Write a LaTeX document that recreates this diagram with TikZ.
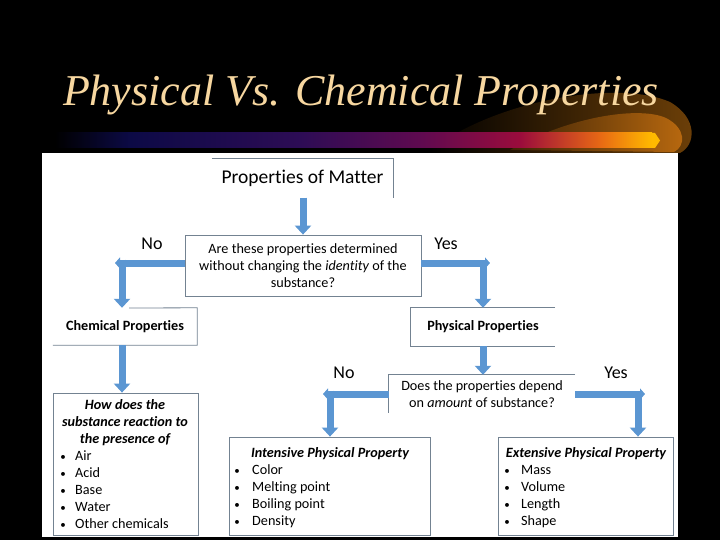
\documentclass[tikz,border=0pt]{standalone}
\usepackage{fontspec}
\setmainfont{Carlito}[Ligatures=NoCommon]
\newfontfamily\titlefont{Liberation Serif}
\usetikzlibrary{arrows.meta}
\definecolor{arrowblue}{RGB}{91,150,210}
\definecolor{edgegray}{RGB}{115,130,145}
\definecolor{titletan}{RGB}{247,215,160}
\definecolor{glowA}{RGB}{110,64,8}
\definecolor{glowB}{RGB}{185,105,15}
\definecolor{glowC}{RGB}{60,34,5}
\definecolor{barA}{RGB}{12,10,70}
\definecolor{barB}{RGB}{45,12,85}
\definecolor{barC}{RGB}{95,10,80}
\definecolor{barD}{RGB}{155,12,60}
\definecolor{barE}{RGB}{232,105,20}
\definecolor{barF}{RGB}{255,185,0}
\begin{document}
\begin{tikzpicture}[x=1pt,y=-1pt,
  edge/.style={draw=edgegray,line width=0.8pt},
  boxshape/.style={inner sep=0pt,align=center,font=\fontsize{14.2}{17}\selectfont},
  blk/.style={draw=arrowblue,line width=7pt,-{Triangle[width=16pt,length=9pt]}},
  cornertip/.style={draw=arrowblue,line width=7pt,-{Triangle[width=11pt,length=5pt]}},
  lbl/.style={font=\fontsize{18}{20}\selectfont,inner sep=0pt},
  txt/.style={font=\fontsize{14.2}{16}\selectfont,inner sep=0pt},
  dot/.style={font=\fontsize{11}{12}\selectfont,inner sep=0pt},
  head/.style={font=\fontsize{14.2}{16}\selectfont\bfseries\itshape,inner sep=0pt}]
\useasboundingbox (0,0) rectangle (720,540);
\fill[black] (0,0) rectangle (720,540);
% glow
\shade[left color=black,right color=glowA]
  (430,150) .. controls (500,98) and (620,80) .. (670,102)
  .. controls (698,118) and (696,145) .. (680,153) -- (430,153) -- cycle;
\shade[left color=glowC,right color=glowB]
  (510,150) .. controls (570,116) and (640,106) .. (666,118)
  .. controls (686,128) and (686,146) .. (674,152) -- cycle;
% bar
\shade[left color=black,right color=barA] (55,133) rectangle (131,148);
\shade[left color=barA,right color=barB] (130,133) rectangle (301,148);
\shade[left color=barB,right color=barC] (300,133) rectangle (421,148);
\shade[left color=barC,right color=barD] (420,133) rectangle (521,148);
\shade[left color=barD,right color=barE] (520,133) rectangle (601,148);
\shade[left color=barE,right color=barF] (600,133) rectangle (652,148);
\fill[barF] (651.5,133) -- (655,133) -- (660,140.5) -- (655,148) -- (651.5,148) -- cycle;
% title
\node[font=\titlefont\itshape\fontsize{44}{44}\selectfont,text=titletan,inner sep=0pt,anchor=base] (title) at (361,106) {Physical Vs. Chemical Properties};
% white panel
\fill[white] (42,153) rectangle (678,537);
% boxes
\node[boxshape,minimum width=181pt,minimum height=39pt,font=\fontsize{19.5}{22}\selectfont] (pm) at (302.5,178) {Properties of Matter};
\draw[edge] (pm.north west) -- (pm.north east) -- (pm.south east);
\node[boxshape,draw=edgegray,line width=0.8pt,minimum width=236pt,minimum height=61pt] (q1) at (303,265.5)
  {Are these properties determined\\without changing the \textit{identity} of the\\substance?};
\node[boxshape,minimum width=144pt,minimum height=37pt,font=\fontsize{14.2}{16}\selectfont\bfseries] (chem) at (125,326.5) {Chemical Properties};
\draw[edge] (129,308) -- (chem.north east) -- (chem.south east) -- (chem.south west);
\node[boxshape,minimum width=144pt,minimum height=38pt,font=\fontsize{14.2}{16}\selectfont\bfseries] (phys) at (483,327) {Physical Properties};
\draw[edge] (phys.north east) -- (phys.north west) -- (phys.south west) -- (phys.south east);
\node[boxshape,minimum width=186pt,minimum height=38pt] (q2) at (482,394)
  {Does the properties depend\\on \textit{amount} of substance?};
\draw[edge] (q2.north east) -- (q2.north west) -- (q2.south west);
\node[boxshape,draw=edgegray,line width=0.8pt,minimum width=145pt,minimum height=142pt] (chl) at (125.5,464) {};
\node[boxshape,draw=edgegray,line width=0.8pt,minimum width=201pt,minimum height=98pt] (ints) at (329.5,486) {};
\node[boxshape,draw=edgegray,line width=0.8pt,minimum width=175pt,minimum height=98pt] (exts) at (585.5,486) {};
% box contents
\node[head,anchor=base] (h1) at (125,409) {How does the};
\node[head,anchor=base] (h2) at (125,426) {substance reaction to};
\node[head,anchor=base] (h3) at (125,443) {the presence of};
\foreach \t [count=\i] in {Air,Acid,Base,Water,Other chemicals}{
  \node[dot,anchor=base] (cd\i) at (63,443+17*\i) {•};
  \node[txt,anchor=base west] (ct\i) at (75,443+17*\i) {\t};
}
\node[head,anchor=base] (ih) at (330,457) {Intensive Physical Property};
\foreach \t [count=\i] in {Color,Melting point,Boiling point,Density}{
  \node[dot,anchor=base] (id\i) at (237,457+17*\i) {•};
  \node[txt,anchor=base west] (it\i) at (252,457+17*\i) {\t};
}
\node[head,anchor=base] (eh) at (586,457) {Extensive Physical Property};
\foreach \t [count=\i] in {Mass,Volume,Length,Shape}{
  \node[dot,anchor=base] (ed\i) at (507,457+17*\i) {•};
  \node[txt,anchor=base west] (et\i) at (521,457+17*\i) {\t};
}
% labels
\node[lbl] (no1) at (152,244) {No};
\node[lbl] (yes1) at (446,244) {Yes};
\node[lbl] (no2) at (344,373) {No};
\node[lbl] (yes2) at (616,373) {Yes};
% arrows
\coordinate (c1) at (122,263);
\coordinate (c2) at (483,263);
\coordinate (c3) at (330,394);
\coordinate (c4) at (638,394);
\draw[blk] (pm.south -| q1.north) -- (q1.north);
\draw[cornertip] (q1.west |- c1) -- ([xshift=-7pt]c1);
\draw[blk] ([yshift=3.5pt]c1) -- (chem.north -| c1);
\draw[blk] (chem.south -| c1) -- (chl.north -| c1);
\draw[cornertip] (q1.east |- c2) -- ([xshift=7pt]c2);
\draw[blk] ([yshift=3.5pt]c2) -- (phys.north -| c2);
\draw[blk] (phys.south -| c2) -- (q2.north -| c2);
\draw[cornertip] (q2.west |- c3) -- ([xshift=-7pt]c3);
\draw[blk] ([yshift=3.5pt]c3) -- (ints.north -| c3);
\draw[cornertip] (q2.east |- c4) -- ([xshift=7pt]c4);
\draw[blk] ([yshift=3.5pt]c4) -- (exts.north -| c4);
\end{tikzpicture}
\end{document}
